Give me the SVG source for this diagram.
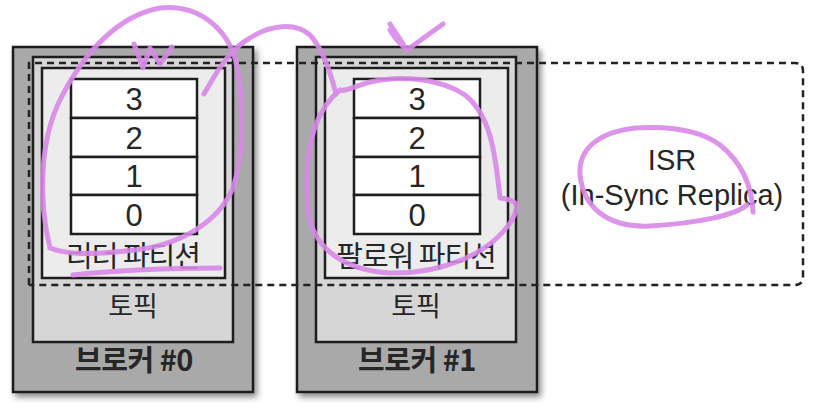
<svg xmlns="http://www.w3.org/2000/svg" width="819" height="410" viewBox="0 0 819 410">
<defs>
<filter id="sh" x="-10%" y="-10%" width="130%" height="130%">
<feGaussianBlur in="SourceAlpha" stdDeviation="3"/>
<feOffset dx="3" dy="4" result="b"/>
<feComponentTransfer><feFuncA type="linear" slope="0.45"/></feComponentTransfer>
<feMerge><feMergeNode/><feMergeNode in="SourceGraphic"/></feMerge>
</filter>
</defs>
<style>
.broker{fill:#a9a9a9;stroke:#1e1e1e;stroke-width:2.5}
.topic{fill:#d6d6d6;stroke:#1e1e1e;stroke-width:2.5}
.part{fill:#ececec;stroke:#1e1e1e;stroke-width:2.5}
.cell{fill:#ffffff;stroke:#1e1e1e;stroke-width:2.5}
.t{font-family:"Noto Sans CJK KR","Noto Sans",sans-serif;fill:#262626;text-anchor:middle}
.lat{font-family:"Liberation Sans","Noto Sans",sans-serif}
.num{font-size:31px}
.lbl{font-size:29px;letter-spacing:-1px}
.top{font-size:27px}
.bold{font-size:29px;font-weight:bold;letter-spacing:-0.5px}
.isr{font-size:29px}
.dash{fill:none;stroke:#222;stroke-width:2.5;stroke-dasharray:7 5}
.ink{fill:none;stroke:#d888e8;stroke-width:5;stroke-linecap:round;stroke-linejoin:round;opacity:0.9}
</style>

<g id="broker0">
<rect class="broker" x="13" y="47" width="240" height="345" filter="url(#sh)"/>
<rect class="topic" x="33" y="57" width="200" height="285"/>
<rect class="part" x="42" y="68" width="183" height="210"/>
<rect class="cell" x="71" y="79" width="126" height="39"/>
<rect class="cell" x="71" y="118" width="126" height="39"/>
<rect class="cell" x="71" y="157" width="126" height="38"/>
<rect class="cell" x="71" y="195" width="126" height="39"/>
<text class="t lat num" x="134" y="110">3</text>
<text class="t lat num" x="134" y="149">2</text>
<text class="t lat num" x="134" y="187">1</text>
<text class="t lat num" x="134" y="226">0</text>
<text class="t lbl" x="133" y="267">리더 파티션</text>
<text class="t top" x="133" y="316">토픽</text>
<text class="t bold" x="134" y="371">브로커 #0</text>
</g>

<g id="broker1">
<rect class="broker" x="297" y="47" width="240" height="345" filter="url(#sh)"/>
<rect class="topic" x="316" y="57" width="200" height="285"/>
<rect class="part" x="325" y="68" width="183" height="210"/>
<rect class="cell" x="354" y="79" width="126" height="39"/>
<rect class="cell" x="354" y="118" width="126" height="39"/>
<rect class="cell" x="354" y="157" width="126" height="38"/>
<rect class="cell" x="354" y="195" width="126" height="39"/>
<text class="t lat num" x="417" y="110">3</text>
<text class="t lat num" x="417" y="149">2</text>
<text class="t lat num" x="417" y="187">1</text>
<text class="t lat num" x="417" y="226">0</text>
<text class="t lbl" x="416" y="267">팔로워 파티션</text>
<text class="t top" x="416" y="316">토픽</text>
<text class="t bold" x="417" y="371">브로커 #1</text>
</g>

<g id="isr">
<path class="dash" d="M29 285 V63 H795 Q803 63 803 71 V277 Q803 285 795 285 H29"/>
<text class="t lat isr" x="672" y="170">ISR</text>
<text class="t lat isr" x="672" y="205">(In-Sync Replica)</text>
</g>

<g id="connectors">
<path class="ink" d="M50 248 C38 200 40 140 60 100 C85 50 120 15 160 8 C200 4 228 30 236 62 C244 100 244 160 232 190 C218 222 180 245 135 250 C100 254 70 256 50 248"/>
<path class="ink" d="M73 275 C120 270 170 268 220 268"/>
<path class="ink" d="M134 44 L143 68 L150 48 M150 48 L160 64 L172 47"/>
<path class="ink" d="M204 94 C215 75 228 50 250 38 C270 25 295 22 310 35 C322 48 330 70 336 94"/>
<path class="ink" d="M390 24 L407 50 L443 24 M390 30 C395 40 402 45 407 50"/>
<path class="ink" d="M340 90 C315 110 303 150 308 210 C313 250 345 270 390 273 C440 274 490 255 512 220 C520 205 518 200 500 198 C495 150 490 115 465 95 C440 78 400 75 370 82 C355 86 345 92 340 90"/>
<path class="ink" d="M753 212 C752 190 745 165 720 145 C700 130 670 126 635 128 C600 132 578 148 580 175 C583 205 605 228 650 226 C700 223 735 215 747 205"/>
</g>
</svg>
